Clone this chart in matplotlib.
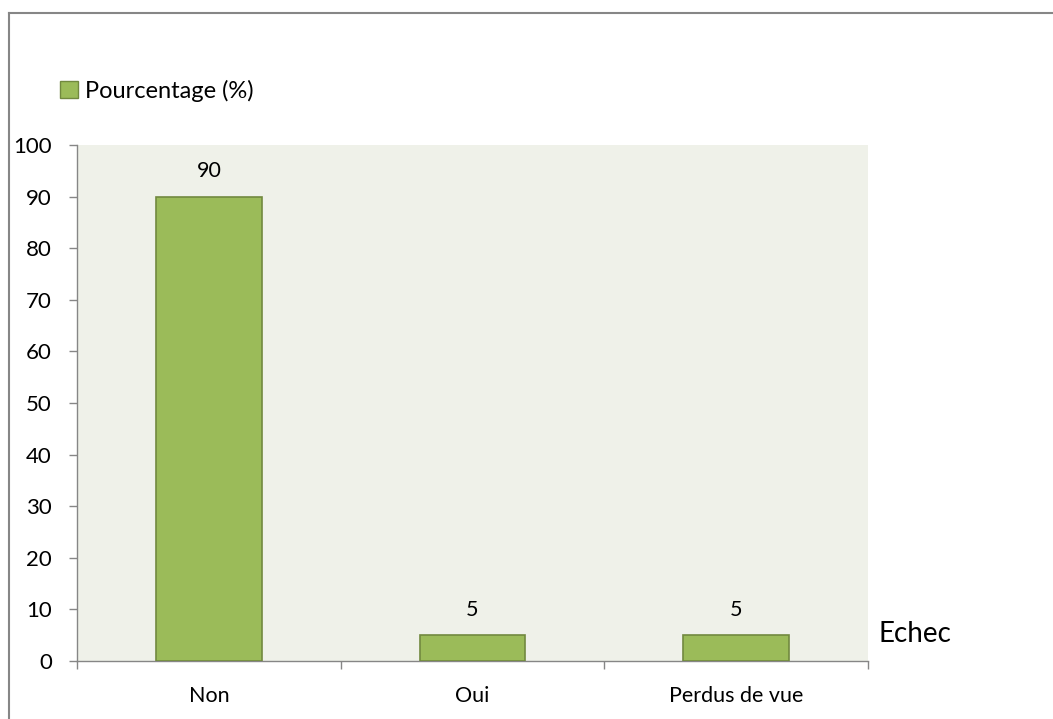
import matplotlib
matplotlib.use("Agg")
import matplotlib.pyplot as plt
from matplotlib.lines import Line2D
from matplotlib.patches import Patch

categories = ["Non", "Oui", "Perdus de vue"]
percentages = [90, 5, 5]
series_label = "Pourcentage (%)"
axis_title = "Echec"
y_ticks = [0, 10, 20, 30, 40, 50, 60, 70, 80, 90, 100]

plt.rcParams["font.family"] = ["Lato", "DejaVu Sans"]

W, H = 1053, 719
fig = plt.figure(figsize=(W / 100, H / 100), dpi=100)
fig.patch.set_facecolor("white")

# outer chart frame (top and left edges visible)
frame_kw = dict(color="#868686", lw=1.5, transform=fig.transFigure)
fig.add_artist(Line2D([9 / W, 1.0], [1 - 12.5 / H, 1 - 12.5 / H], **frame_kw))
fig.add_artist(Line2D([9 / W, 9 / W], [0.0, 1 - 12.5 / H], **frame_kw))

ax = fig.add_axes([77 / W, 1 - 661 / H, (868 - 77) / W, (661 - 145) / H])
ax.set_facecolor("#eff1e9")

x = range(len(categories))
bars = ax.bar(x, percentages, width=0.40, color="#9bbb59", edgecolor="#71893f", linewidth=1.2, zorder=3)
for b, v in zip(bars, percentages):
    ax.text(b.get_x() + b.get_width() / 2, v + 3.0, f"{v}", ha="center", va="bottom",
            fontsize=15.5, color="black")

ax.set_xlim(-0.5, len(categories) - 0.5)
ax.set_ylim(0, 100)
ax.set_yticks(y_ticks)
ax.tick_params(axis="y", labelsize=16, length=6, width=1, color="#868686", pad=12)

ax.set_xticks([i - 0.5 for i in range(len(categories) + 1)])
ax.set_xticklabels([])
ax.set_xticks(list(x), minor=True)
ax.set_xticklabels(categories, minor=True, fontsize=15.5)
ax.tick_params(axis="x", which="major", length=6, width=1, color="#868686")
ax.tick_params(axis="x", which="minor", length=0, pad=18)

for side in ("top", "right"):
    ax.spines[side].set_visible(False)
for side in ("left", "bottom"):
    ax.spines[side].set_color("#868686")
    ax.spines[side].set_linewidth(1)

ax.text(1.013, 0.052, axis_title, transform=ax.transAxes, fontsize=20, ha="left", va="center")

handle = Patch(facecolor="#9bbb59", edgecolor="#71893f", label=series_label)
fig.legend(handles=[handle], loc="center left", bbox_to_anchor=(60 / W, 1 - 91 / H),
           frameon=False, fontsize=17, handlelength=0.75, handleheight=0.75,
           handletextpad=0.3, borderaxespad=0, borderpad=0)

fig.savefig("out.png", dpi=100, facecolor="white")
